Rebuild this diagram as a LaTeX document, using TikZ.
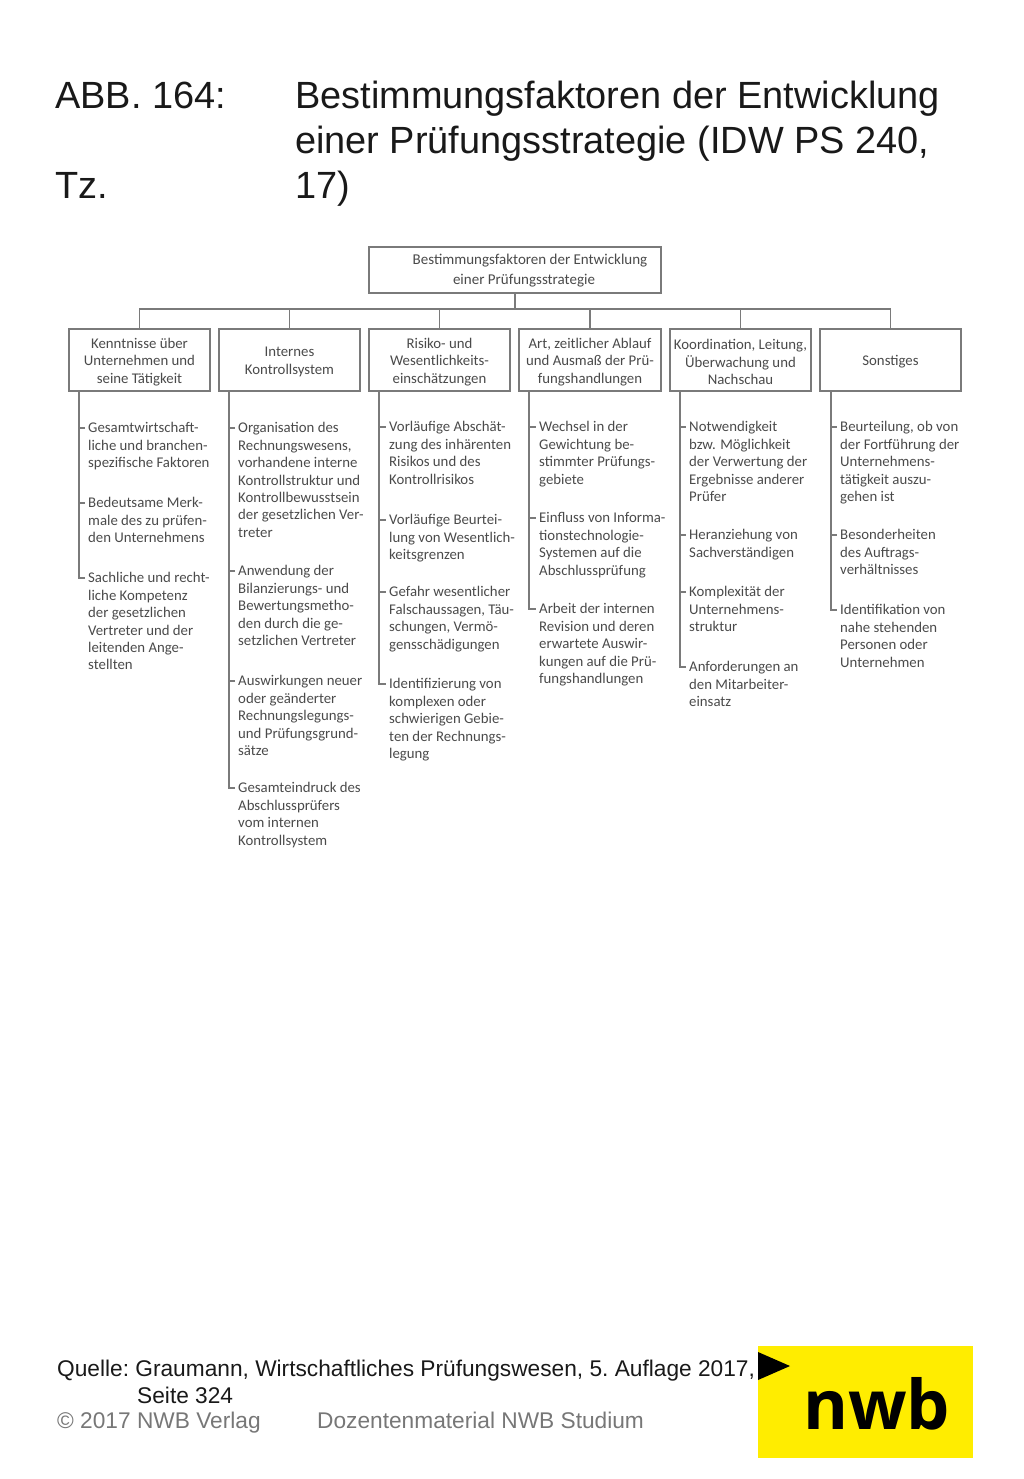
\documentclass[tikz,border=0pt]{standalone}
\usepackage{fontspec}
\setmainfont{Liberation Sans}
\newfontfamily\chartfont{Carlito}
\newfontfamily\logofont{Open Sans}
\definecolor{linegray}{HTML}{7A7A7A}
\definecolor{chartgray}{HTML}{4A4A4A}
\definecolor{footgray}{HTML}{777777}
\definecolor{nwbyellow}{HTML}{FFED00}
\tikzset{
  headbox/.style={draw=linegray,line width=1.4pt,fill=white,inner sep=0pt},
  headtext/.style={inner sep=0pt,align=center,font=\chartfont\fontsize{14.8}{17.4}\selectfont,text=chartgray},
  roottext/.style={inner sep=0pt,align=center,font=\chartfont\fontsize{15}{20}\selectfont,text=chartgray},
  itemtext/.style={anchor=north west,inner sep=0pt,align=left,font=\chartfont\fontsize{14.8}{17.4}\selectfont,text=chartgray},
  conn/.style={draw=linegray,line width=1.4pt},
  titletext/.style={anchor=base west,inner sep=0pt,font=\fontsize{37.9}{45}\selectfont,text=black!90},
  foottext/.style={anchor=base west,inner sep=0pt,font=\frenchspacing\fontsize{22.7}{27}\selectfont,text=black!90},
  footgrey/.style={anchor=base west,inner sep=0pt,font=\frenchspacing\fontsize{22.7}{27}\selectfont,text=footgray},
}
\newcommand{\hb}[6]{\node[headbox,minimum width=#4 pt,minimum height=#5 pt] (#1) at (#2,#3) {};
  \node[headtext] (#1t) at ([yshift=-2pt]#1.center) {#6};}
\newcommand{\itm}[4]{\node[itemtext] (#1) at (#2,#3-5.5) {#4};}
\newcommand{\tick}[2]{\draw[conn] (#1) |- ([xshift=-3pt,yshift=-5.5pt]#2.north west);}
\begin{document}
\begin{tikzpicture}[x=1pt,y=-1pt]
\useasboundingbox (0,0) rectangle (1024,1479);
\node[titletext] (t1) at (55,109) {ABB. 164:};
\node[titletext] (t2) at (295,109) {Bestimmungsfaktoren der Entwicklung};
\node[titletext] (t3) at (295,154) {einer Prüfungsstrategie (IDW PS 240,};
\node[titletext] (t4) at (55,199) {Tz.};
\node[titletext] (t5) at (295,199) {17)};
\node[headbox,minimum width=292pt,minimum height=46pt] (root) at (515,270) {};
\node[roottext] (roott) at (527,270.5) {\hspace*{6pt}Bestimmungsfaktoren der Entwicklung\\einer Prüfungsstrategie\hspace*{6pt}};
\hb{h1}{139.5}{360}{141}{62}{Kenntnisse über\\Unternehmen und\\seine Tätigkeit}
\hb{h2}{289.5}{360}{141}{62}{Internes\\Kontrollsystem}
\hb{h3}{439.5}{360}{141}{62}{Risiko- und\\Wesentlichkeits-\\einschätzungen}
\hb{h4}{590}{360}{142}{62}{Art, zeitlicher Ablauf\\und Ausmaß der Prü-\\fungshandlungen}
\hb{h5}{740.5}{360}{141}{62}{Koordination, Leitung,\\Überwachung und\\Nachschau}
\hb{h6}{890.5}{360}{141}{62}{Sonstiges}
\coordinate (bus) at (515,309);
\draw[conn] (root.south) -- (bus);
\draw[conn] (h1.north) |- (bus);
\draw[conn] (h6.north) |- (bus);
\draw[conn] (h2.north) -- (h2.north |- bus);
\draw[conn] (h3.north) -- (h3.north |- bus);
\draw[conn] (h4.north) -- (h4.north |- bus);
\draw[conn] (h5.north) -- (h5.north |- bus);
\itm{a1}{88}{428}{Gesamtwirtschaft-\\liche und branchen-\\spezifische Faktoren}
\itm{a2}{88}{503}{Bedeutsame Merk-\\male des zu prüfen-\\den Unternehmens}
\itm{a3}{88}{578}{Sachliche und recht-\\liche Kompetenz\\der gesetzlichen\\Vertreter und der\\leitenden Ange-\\stellten}
\itm{b1}{238}{428}{Organisation des\\Rechnungswesens,\\vorhandene interne\\Kontrollstruktur und\\Kontrollbewusstsein\\der gesetzlichen Ver-\\treter}
\itm{b2}{238}{571}{Anwendung der\\Bilanzierungs- und\\Bewertungsmetho-\\den durch die ge-\\setzlichen Vertreter}
\itm{b3}{238}{681}{Auswirkungen neuer\\oder geänderter\\Rechnungslegungs-\\und Prüfungsgrund-\\sätze}
\itm{b4}{238}{788}{Gesamteindruck des\\Abschlussprüfers\\vom internen\\Kontrollsystem}
\itm{c1}{389}{427}{Vorläufige Abschät-\\zung des inhärenten\\Risikos und des\\Kontrollrisikos}
\itm{c2}{389}{520}{Vorläufige Beurtei-\\lung von Wesentlich-\\keitsgrenzen}
\itm{c3}{389}{592}{Gefahr wesentlicher\\Falschaussagen, Täu-\\schungen, Vermö-\\gensschädigungen}
\itm{c4}{389}{684}{Identifizierung von\\komplexen oder\\schwierigen Gebie-\\ten der Rechnungs-\\legung}
\itm{d1}{539}{427}{Wechsel in der\\Gewichtung be-\\stimmter Prüfungs-\\gebiete}
\itm{d2}{539}{518}{Einfluss von Informa-\\tionstechnologie-\\Systemen auf die\\Abschlussprüfung}
\itm{d3}{539}{609}{Arbeit der internen\\Revision und deren\\erwartete Auswir-\\kungen auf die Prü-\\fungshandlungen}
\itm{e1}{689}{427}{Notwendigkeit\\bzw. Möglichkeit\\der Verwertung der\\Ergebnisse anderer\\Prüfer}
\itm{e2}{689}{535}{Heranziehung von\\Sachverständigen}
\itm{e3}{689}{592}{Komplexität der\\Unternehmens-\\struktur}
\itm{e4}{689}{667}{Anforderungen an\\den Mitarbeiter-\\einsatz}
\itm{f1}{840}{427}{Beurteilung, ob von\\der Fortführung der\\Unternehmens-\\tätigkeit auszu-\\gehen ist}
\itm{f2}{840}{535}{Besonderheiten\\des Auftrags-\\verhältnisses}
\itm{f3}{840}{610}{Identifikation von\\nahe stehenden\\Personen oder\\Unternehmen}
\coordinate (ta) at (79,391);
\coordinate (tb) at (229,391);
\coordinate (tc) at (379,391);
\coordinate (td) at (529,391);
\coordinate (te) at (680,391);
\coordinate (tf) at (831,391);
\tick{ta}{a1}\tick{ta}{a2}\tick{ta}{a3}
\tick{tb}{b1}\tick{tb}{b2}\tick{tb}{b3}\tick{tb}{b4}
\tick{tc}{c1}\tick{tc}{c2}\tick{tc}{c3}\tick{tc}{c4}
\tick{td}{d1}\tick{td}{d2}\tick{td}{d3}
\tick{te}{e1}\tick{te}{e2}\tick{te}{e3}\tick{te}{e4}
\tick{tf}{f1}\tick{tf}{f2}\tick{tf}{f3}
\fill[nwbyellow] (758,1346) rectangle (973,1458);
\fill[black] (758,1352) -- (790,1366) -- (758,1380) -- cycle;
\node[anchor=base west,inner sep=0pt,font=\logofont\bfseries\fontsize{68.5}{70}\selectfont,text=black] (logo) at (803,1429) {nwb};
\node[foottext] (q1) at (57,1376) {Quelle: Graumann, Wirtschaftliches Prüfungswesen, 5. Auflage 2017,};
\node[foottext] (q2) at (137,1403) {Seite 324};
\node[footgrey] (q3) at (57,1428) {© 2017 NWB Verlag};
\node[footgrey] (q4) at (317,1428) {Dozentenmaterial NWB Studium};
\end{tikzpicture}
\end{document}
